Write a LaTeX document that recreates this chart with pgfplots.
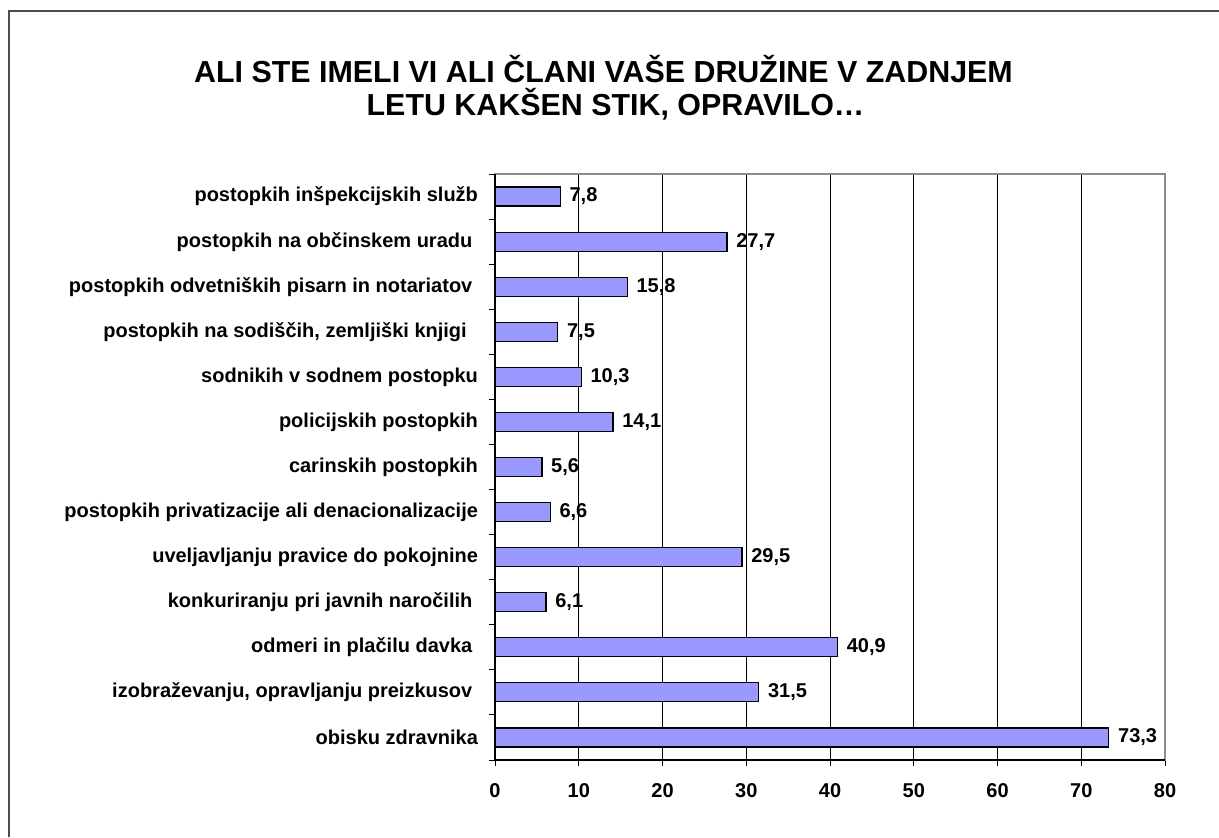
\documentclass[border=0pt]{standalone}
\usepackage{pgfplots}
\pgfplotsset{compat=1.18}
\usepackage{fontspec}
\setmainfont{Liberation Sans}
\definecolor{barblue}{HTML}{9999FF}
\begin{document}
\begin{tikzpicture}
\useasboundingbox (0,0) rectangle (609.5pt,418.5pt);
\draw[color=black!70, line width=0.7pt] (4.5pt,0) -- (4.5pt,413pt) -- (609.5pt,413pt);
\node[anchor=base, font=\bfseries\fontsize{15.2}{18}\selectfont, inner sep=0pt] at (301.75pt,377pt) {ALI STE IMELI VI ALI ČLANI VAŠE DRUŽINE V ZADNJEM};
\node[anchor=base, font=\bfseries\fontsize{15.2}{18}\selectfont, inner sep=0pt] at (307.75pt,360.5pt) {LETU KAKŠEN STIK, OPRAVILO…};
\begin{axis}[
  at={(247.5pt,38.5pt)}, anchor=south west,
  scale only axis, width=335pt, height=293pt,
  xbar, bar width=9.5pt,
  xmin=0, xmax=80, ymin=-0.5, ymax=12.5,
  xtick={0,10,...,80},
  xmajorgrids, major x grid style={black, line width=0.5pt},
  ytick={-0.5,0.5,...,12.5}, yticklabels={},
  extra y ticks={0,1,...,12},
  extra y tick labels={obisku zdravnika,
    {izobraževanju, opravljanju preizkusov\kern2.8pt},
    odmeri in plačilu davka\kern2.8pt,
    konkuriranju pri javnih naročilih\kern2.8pt,
    uveljavljanju pravice do pokojnine,
    postopkih privatizacije ali denacionalizacije,
    carinskih postopkih,
    policijskih postopkih,
    sodnikih v sodnem postopku,
    {postopkih na sodiščih, zemljiški knjigi\kern5.6pt},
    postopkih odvetniških pisarn in notariatov\kern2.8pt,
    postopkih na občinskem uradu\kern2.8pt,
    postopkih inšpekcijskih služb},
  extra y tick style={major tick length=0pt, grid=none, yticklabel style={xshift=-5pt}},
  tick align=outside, tick pos=left,
  major tick length=3pt,
  tick style={black, line width=0.5pt},
  axis line style={draw=black!45, line width=0.6pt},
  after end axis/.code={\draw[black, line width=0.6pt] (rel axis cs:0,1) -- (rel axis cs:0,0) -- (rel axis cs:1,0);},
  tick label style={font=\bfseries\fontsize{10}{12}\selectfont},
  xticklabel style={yshift=-5pt},
  /pgf/number format/assume math mode=true,
  point meta=x,
  nodes near coords={\pgfmathprintnumber[fixed, fixed zerofill, precision=1, use comma, assume math mode=true]{\pgfplotspointmeta}},
  nodes near coords style={font=\bfseries\fontsize{10}{12}\selectfont, anchor=west, xshift=1pt, black},
]
\addplot[fill=barblue, draw=black, line width=0.6pt] coordinates {
  (73.3,0) (31.5,1) (40.9,2) (6.1,3) (29.5,4) (6.6,5) (5.6,6) (14.1,7) (10.3,8) (7.5,9) (15.8,10) (27.7,11) (7.8,12)
};
\end{axis}
\end{tikzpicture}
\end{document}
